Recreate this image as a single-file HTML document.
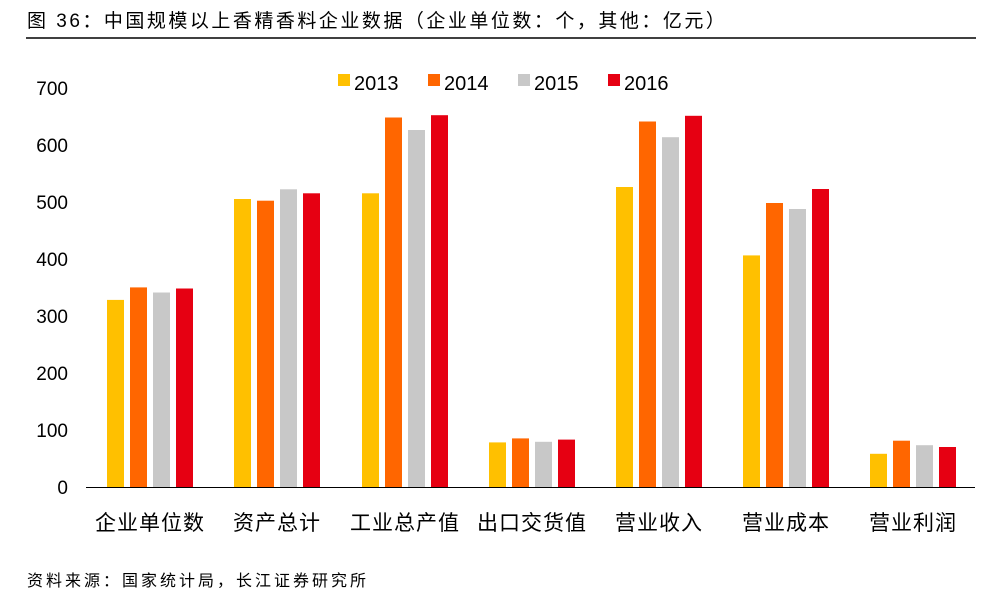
<!DOCTYPE html>
<html><head><meta charset="utf-8"><style>
body{margin:0;background:#fff;}
svg text{font-family:"Liberation Sans","Noto Sans CJK SC",sans-serif;}
</style></head><body>
<svg width="998" height="598" xmlns="http://www.w3.org/2000/svg">
<text x="27" y="27" font-size="19" letter-spacing="2.5" fill="#000">图 36：中国规模以上香精香料企业数据（企业单位数：个，其他：亿元）</text>
<line x1="26" y1="38" x2="976" y2="38" stroke="#000" stroke-width="1.5"/>
<g font-size="19" fill="#000" text-anchor="end">
<text x="68" y="494">0</text><text x="68" y="437">100</text><text x="68" y="380">200</text><text x="68" y="323">300</text><text x="68" y="266">400</text><text x="68" y="209">500</text><text x="68" y="152">600</text><text x="68" y="95">700</text>
</g>
<g font-size="20">
<rect x="338" y="74" width="12" height="12" fill="#FFC000"/><text x="354" y="90">2013</text>
<rect x="428" y="74" width="12" height="12" fill="#FF6600"/><text x="444" y="90">2014</text>
<rect x="518" y="74" width="12" height="12" fill="#C8C8C8"/><text x="534" y="90">2015</text>
<rect x="608" y="74" width="12" height="12" fill="#E60012"/><text x="624" y="90">2016</text>
</g>
<g font-size="21" letter-spacing="1" text-anchor="middle" fill="#000">
<text x="150" y="530">企业单位数</text><text x="277" y="530">资产总计</text><text x="405" y="530">工业总产值</text><text x="532" y="530">出口交货值</text><text x="659" y="530">营业收入</text><text x="786" y="530">营业成本</text><text x="913" y="530">营业利润</text>
</g>
<text x="27" y="586" font-size="16" letter-spacing="3" fill="#000">资料来源：国家统计局，长江证券研究所</text>
<g>
<rect x="107" y="299.9" width="17" height="188.1" fill="#FFC000"/><rect x="130" y="287.4" width="17" height="200.6" fill="#FF6600"/><rect x="153" y="292.5" width="17" height="195.5" fill="#C8C8C8"/><rect x="176" y="288.5" width="17" height="199.5" fill="#E60012"/>
<rect x="234" y="199" width="17" height="289" fill="#FFC000"/><rect x="257" y="200.7" width="17" height="287.3" fill="#FF6600"/><rect x="280" y="189.3" width="17" height="298.7" fill="#C8C8C8"/><rect x="303" y="193.3" width="17" height="294.7" fill="#E60012"/>
<rect x="362" y="193.3" width="17" height="294.7" fill="#FFC000"/><rect x="385" y="117.5" width="17" height="370.5" fill="#FF6600"/><rect x="408" y="130" width="17" height="358" fill="#C8C8C8"/><rect x="431" y="115.2" width="17" height="372.8" fill="#E60012"/>
<rect x="489" y="442.4" width="17" height="45.6" fill="#FFC000"/><rect x="512" y="438.4" width="17" height="49.6" fill="#FF6600"/><rect x="535" y="441.8" width="17" height="46.2" fill="#C8C8C8"/><rect x="558" y="439.6" width="17" height="48.4" fill="#E60012"/>
<rect x="616" y="187" width="17" height="301" fill="#FFC000"/><rect x="639" y="121.5" width="17" height="366.5" fill="#FF6600"/><rect x="662" y="137.2" width="17" height="350.8" fill="#C8C8C8"/><rect x="685" y="115.8" width="17" height="372.2" fill="#E60012"/>
<rect x="743" y="255.4" width="17" height="232.6" fill="#FFC000"/><rect x="766" y="203" width="17" height="285" fill="#FF6600"/><rect x="789" y="209" width="17" height="279" fill="#C8C8C8"/><rect x="812" y="189" width="17" height="299" fill="#E60012"/>
<rect x="870" y="453.8" width="17" height="34.2" fill="#FFC000"/><rect x="893" y="440.7" width="17" height="47.3" fill="#FF6600"/><rect x="916" y="445.2" width="17" height="42.8" fill="#C8C8C8"/><rect x="939" y="447" width="17" height="41" fill="#E60012"/>
</g>
<line x1="86" y1="487.5" x2="975" y2="487.5" stroke="#000" stroke-width="1"/>
</svg>
</body></html>
